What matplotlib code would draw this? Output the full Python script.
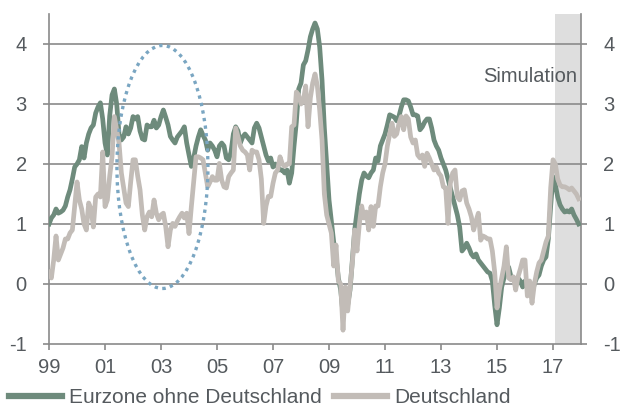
import numpy as np
import matplotlib
matplotlib.use("Agg")
import matplotlib.pyplot as plt
from matplotlib.patches import Ellipse

plt.rcParams['font.family'] = ['Liberation Sans', 'DejaVu Sans']

# monthly values, Jan 1999 .. Dec 2017 (one row per year)
eurozone_ex_de = [
    1.00, 1.10, 1.15, 1.25, 1.18, 1.20, 1.23, 1.30, 1.45, 1.57, 1.75, 1.95,  # 1999
    2.00, 2.07, 2.29, 2.10, 2.35, 2.50, 2.60, 2.65, 2.85, 2.95, 3.02, 2.75,  # 2000
    2.35, 2.15, 2.80, 3.15, 3.25, 3.00, 2.50, 2.40, 2.45, 2.62, 2.50, 2.60,  # 2001
    2.79, 2.75, 2.79, 2.55, 2.42, 2.40, 2.65, 2.62, 2.62, 2.73, 2.60, 2.65,  # 2002
    2.79, 2.90, 2.78, 2.65, 2.46, 2.40, 2.35, 2.45, 2.50, 2.55, 2.62, 2.35,  # 2003
    2.15, 1.96, 2.10, 2.30, 2.45, 2.57, 2.48, 2.40, 2.23, 2.35, 2.30, 2.23,  # 2004
    2.12, 2.30, 2.35, 2.30, 2.10, 2.07, 2.20, 2.50, 2.62, 2.55, 2.35, 2.45,  # 2005
    2.50, 2.45, 2.40, 2.35, 2.60, 2.68, 2.60, 2.45, 2.30, 2.15, 2.05, 2.10,  # 2006
    1.95, 2.00, 1.95, 1.90, 1.90, 1.85, 1.90, 1.68, 1.85, 2.30, 2.70, 3.25,  # 2007
    3.35, 3.65, 3.72, 3.90, 4.12, 4.25, 4.35, 4.25, 3.95, 3.40, 2.60, 2.00,  # 2008
    1.40, 1.05, 0.70, 0.45, 0.10, -0.10, -0.50, -0.30, -0.35, -0.10, 0.40, 0.90,  # 2009
    1.20, 1.50, 1.73, 1.85, 1.80, 1.77, 1.85, 1.90, 2.10, 2.05, 2.30, 2.40,  # 2010
    2.50, 2.65, 2.82, 2.80, 2.78, 2.72, 2.80, 2.95, 3.07, 3.07, 3.05, 2.95,  # 2011
    2.82, 2.82, 2.80, 2.57, 2.62, 2.70, 2.75, 2.75, 2.60, 2.40, 2.30, 2.23,  # 2012
    2.10, 2.00, 1.90, 1.75, 1.60, 1.45, 1.30, 1.15, 0.95, 0.55, 0.60, 0.68,  # 2013
    0.60, 0.50, 0.45, 0.50, 0.40, 0.35, 0.30, 0.25, 0.20, 0.18, 0.05, -0.35,  # 2014
    -0.68, -0.40, -0.05, 0.10, 0.25, 0.28, 0.12, 0.10, 0.00, 0.10, 0.05, -0.05,  # 2015
    0.05, -0.05, -0.10, -0.15, 0.00, 0.10, 0.15, 0.30, 0.40, 0.45, 0.75, 1.30,  # 2016
    1.79, 1.65, 1.45, 1.32, 1.25, 1.20, 1.22, 1.20, 1.25, 1.15, 1.08, 1.00,  # 2017
]

deutschland = [
    0.20, 0.10, 0.40, 0.80, 0.40, 0.50, 0.60, 0.75, 0.75, 0.85, 0.90, 1.30,  # 1999
    1.70, 1.40, 1.25, 1.00, 0.90, 1.35, 1.25, 0.95, 1.45, 1.50, 1.45, 2.20,  # 2000
    1.29, 1.40, 1.80, 2.12, 2.79, 2.57, 2.35, 1.85, 1.60, 1.35, 1.29, 1.70,  # 2001
    2.07, 2.07, 1.80, 1.57, 1.15, 0.90, 1.12, 1.20, 1.12, 1.40, 1.18, 1.07,  # 2002
    1.15, 1.18, 0.96, 0.62, 0.90, 1.01, 0.96, 1.05, 1.12, 1.18, 1.10, 1.18,  # 2003
    0.84, 1.29, 1.70, 2.12, 2.12, 2.10, 2.07, 1.85, 1.62, 1.70, 1.79, 1.73,  # 2004
    1.73, 2.01, 1.73, 1.62, 1.60, 1.79, 1.85, 1.90, 2.60, 2.45, 2.30, 2.23,  # 2005
    2.20, 2.15, 1.90, 2.23, 2.20, 2.20, 2.07, 1.75, 1.01, 1.30, 1.46, 1.46,  # 2006
    1.68, 1.85, 1.90, 2.12, 2.00, 1.96, 2.00, 2.00, 2.62, 2.65, 3.20, 3.15,  # 2007
    3.00, 3.05, 3.30, 2.62, 3.10, 3.35, 3.50, 3.30, 2.90, 2.40, 1.50, 1.15,  # 2008
    1.00, 0.85, 0.30, 0.65, 0.05, 0.00, -0.77, -0.05, -0.45, -0.05, 0.35, 0.90,  # 2009
    0.55, 1.00, 1.30, 1.10, 1.20, 0.90, 1.29, 0.96, 1.30, 1.30, 1.62, 1.85,  # 2010
    2.00, 2.30, 2.50, 2.68, 2.46, 2.50, 2.68, 2.79, 2.57, 2.80, 2.75, 2.45,  # 2011
    2.35, 2.40, 2.15, 2.10, 2.15, 1.96, 2.18, 2.10, 2.00, 1.90, 1.95, 1.85,  # 2012
    1.80, 1.62, 1.60, 1.01, 1.68, 1.85, 1.90, 1.45, 1.40, 1.55, 1.57, 1.35,  # 2013
    1.25, 1.12, 0.90, 1.05, 1.18, 0.73, 0.80, 0.78, 0.75, 0.75, 0.55, 0.20,  # 2014
    -0.40, -0.10, 0.10, 0.30, 0.62, 0.10, 0.07, 0.12, -0.10, 0.12, 0.25, 0.40,  # 2015
    0.40, -0.20, 0.05, -0.32, 0.00, 0.20, 0.35, 0.40, 0.55, 0.70, 0.80, 1.60,  # 2016
    2.07, 2.00, 1.75, 1.65, 1.62, 1.62, 1.60, 1.57, 1.60, 1.55, 1.50, 1.42,  # 2017
]

x_ticks = [1999, 2001, 2003, 2005, 2007, 2009, 2011, 2013, 2015, 2017]
x_tick_labels = ['99', '01', '03', '05', '07', '09', '11', '13', '15', '17']
y_ticks = [-1, 0, 1, 2, 3, 4]

sim_start = 2017.08
ellipse_center = (2003.05, 1.95)
ellipse_size = (3.25, 4.05)

dates = 1999 + np.arange(len(eurozone_ex_de)) / 12.0

green = '#6e8b7c'
grey = '#c2bcb7'
axis_col = '#8a8a8a'
text_col = '#555a5e'

fig = plt.figure(figsize=(6.23, 4.08), dpi=100)
ax = fig.add_axes([0.0787, 0.1569, 0.8539, 0.8088])

ax.axvspan(sim_start, 2018, color='#dedede', zorder=0, lw=0)
for yv in y_ticks[1:]:
    ax.axhline(yv, color=axis_col, lw=1.2, zorder=1)

ax.plot(dates, eurozone_ex_de, color=green, lw=3.4, zorder=3,
        solid_joinstyle='round', label='Eurzone ohne Deutschland')
ax.plot(dates, deutschland, color=grey, lw=3.4, zorder=4,
        solid_joinstyle='round', label='Deutschland')

ell = Ellipse(ellipse_center, ellipse_size[0], ellipse_size[1], fill=False,
              edgecolor='#7aa6c2', lw=2.4, linestyle=(0, (1, 1.3)), zorder=5)
ax.add_patch(ell)

ax.text(2017.85, 3.45, 'Simulation', ha='right', va='center',
        fontsize=14.5, color=text_col, zorder=6)

ax.set_xlim(1999, 2018)
ax.set_ylim(-1, 4.5)
ax.set_xticks(x_ticks)
ax.set_xticklabels(x_tick_labels)
ax.set_yticks(y_ticks)
ax.set_yticklabels([str(v) for v in y_ticks])

for side in ['left', 'right', 'bottom']:
    ax.spines[side].set_color(axis_col)
    ax.spines[side].set_linewidth(1.2)
ax.spines['top'].set_visible(False)

ax.tick_params(axis='both', colors=axis_col, labelcolor=text_col,
               labelsize=14.5, length=4, width=1.2, direction='out')
ax.tick_params(axis='y', right=True, labelright=True, pad=12)
ax.tick_params(axis='x', pad=6)

leg = fig.legend(loc='lower left', bbox_to_anchor=(0.014, 0.002), ncol=2,
                 frameon=False, fontsize=15, handlelength=2.55,
                 handletextpad=0.34, columnspacing=0.58, borderpad=0,
                 borderaxespad=0)
for t in leg.get_texts():
    t.set_color(text_col)
for h in leg.legend_handles:
    h.set_linewidth(4.5)

fig.savefig('out.png', dpi=100)
